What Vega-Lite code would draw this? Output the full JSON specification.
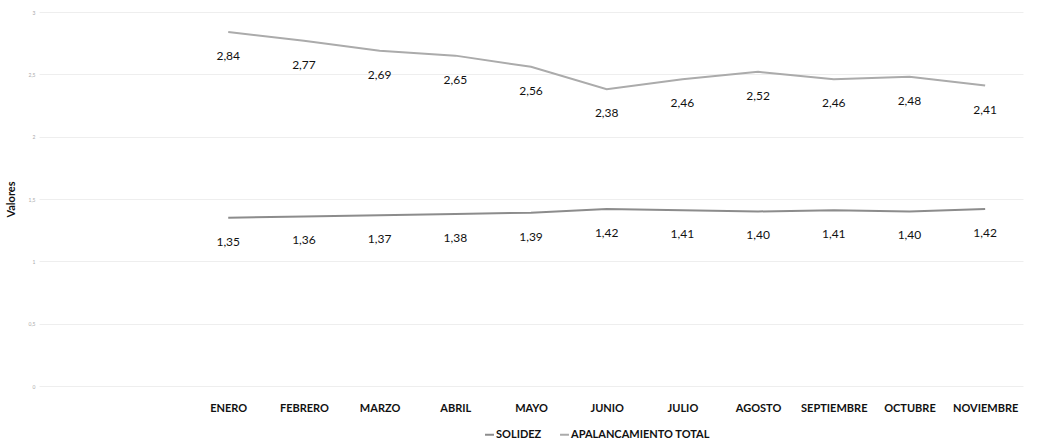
{
  "$schema": "https://vega.github.io/schema/vega-lite/v6.json",
  "autosize": {"type": "none"},
  "width": 984,
  "height": 374,
  "padding": {"left": 39, "top": 12, "right": 14, "bottom": 61},
  "background": "white",
  "config": {
    "font": "Lato",
    "locale": {"number": {"decimal": ",", "thousands": ".", "grouping": [3], "currency": ["", ""]}},
    "view": {"stroke": null}
  },
  "data": {"values": [
    {"mes": "ENERO", "serie": "SOLIDEZ", "valor": 1.35},
    {"mes": "FEBRERO", "serie": "SOLIDEZ", "valor": 1.36},
    {"mes": "MARZO", "serie": "SOLIDEZ", "valor": 1.37},
    {"mes": "ABRIL", "serie": "SOLIDEZ", "valor": 1.38},
    {"mes": "MAYO", "serie": "SOLIDEZ", "valor": 1.39},
    {"mes": "JUNIO", "serie": "SOLIDEZ", "valor": 1.42},
    {"mes": "JULIO", "serie": "SOLIDEZ", "valor": 1.41},
    {"mes": "AGOSTO", "serie": "SOLIDEZ", "valor": 1.40},
    {"mes": "SEPTIEMBRE", "serie": "SOLIDEZ", "valor": 1.41},
    {"mes": "OCTUBRE", "serie": "SOLIDEZ", "valor": 1.40},
    {"mes": "NOVIEMBRE", "serie": "SOLIDEZ", "valor": 1.42},
    {"mes": "ENERO", "serie": "APALANCAMIENTO TOTAL", "valor": 2.84},
    {"mes": "FEBRERO", "serie": "APALANCAMIENTO TOTAL", "valor": 2.77},
    {"mes": "MARZO", "serie": "APALANCAMIENTO TOTAL", "valor": 2.69},
    {"mes": "ABRIL", "serie": "APALANCAMIENTO TOTAL", "valor": 2.65},
    {"mes": "MAYO", "serie": "APALANCAMIENTO TOTAL", "valor": 2.56},
    {"mes": "JUNIO", "serie": "APALANCAMIENTO TOTAL", "valor": 2.38},
    {"mes": "JULIO", "serie": "APALANCAMIENTO TOTAL", "valor": 2.46},
    {"mes": "AGOSTO", "serie": "APALANCAMIENTO TOTAL", "valor": 2.52},
    {"mes": "SEPTIEMBRE", "serie": "APALANCAMIENTO TOTAL", "valor": 2.46},
    {"mes": "OCTUBRE", "serie": "APALANCAMIENTO TOTAL", "valor": 2.48},
    {"mes": "NOVIEMBRE", "serie": "APALANCAMIENTO TOTAL", "valor": 2.41}
  ]},
  "encoding": {
    "x": {
      "field": "mes", "type": "ordinal",
      "scale": {"type": "point", "padding": 0.5, "domain": ["_a", "_b", "ENERO", "FEBRERO", "MARZO", "ABRIL", "MAYO", "JUNIO", "JULIO", "AGOSTO", "SEPTIEMBRE", "OCTUBRE", "NOVIEMBRE"]},
      "axis": {
        "title": null, "labelAngle": 0, "ticks": false, "domain": false, "grid": false,
        "labelExpr": "indexof(datum.label, '_') == 0 ? '' : datum.label",
        "labelFont": "Lato", "labelFontWeight": "bold", "labelFontSize": 11, "labelColor": "#111111",
        "labelPadding": 16
      }
    },
    "y": {
      "field": "valor", "type": "quantitative",
      "scale": {"domain": [0, 3]},
      "axis": {
        "title": "Valores", "titleFontWeight": "bold", "titleFontSize": 11, "titleColor": "#111111", "titlePadding": 12,
        "values": [0, 0.5, 1, 1.5, 2, 2.5, 3], "format": ".1~f",
        "labelFontSize": 5, "labelColor": "#aaaaaa", "labelPadding": 4,
        "ticks": false, "domain": false,
        "grid": true, "gridColor": "#eeeeee", "gridWidth": 1
      }
    },
    "color": {
      "field": "serie", "type": "nominal",
      "scale": {"domain": ["SOLIDEZ", "APALANCAMIENTO TOTAL"], "range": ["#8c8c8c", "#ababab"]},
      "legend": {
        "title": null, "orient": "none", "legendX": 445, "legendY": 417, "direction": "horizontal", "symbolType": "stroke",
        "symbolStrokeWidth": 2, "symbolSize": 80, "labelFont": "Lato", "labelFontWeight": "bold", "labelLimit": 0,
        "labelFontSize": 11, "labelColor": "#111111", "columnPadding": 14, "labelOffset": 1
      }
    }
  },
  "layer": [
    {"mark": {"type": "line", "strokeWidth": 2}},
    {
      "mark": {"type": "text", "dy": 24, "fontSize": 12, "font": "Lato", "color": "#111111"},
      "encoding": {
        "text": {"field": "valor", "type": "quantitative", "format": ".2f"},
        "color": {"value": "#111111"}
      }
    }
  ]
}
